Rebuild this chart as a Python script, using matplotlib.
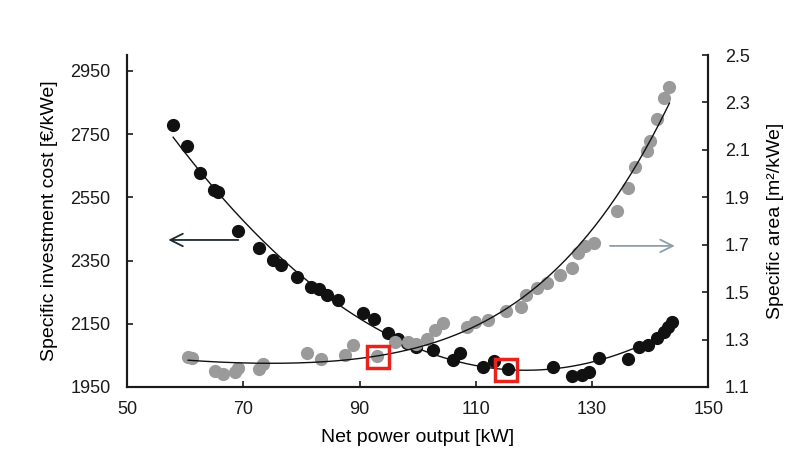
import numpy as np
import matplotlib
matplotlib.use("Agg")
import matplotlib.pyplot as plt

plt.rcParams['font.family'] = ['Liberation Sans', 'DejaVu Sans']

# specific investment cost (left axis)
cost_power = [57.9, 60.3, 62.6, 65.0, 65.7, 69.1, 72.7, 75.1, 76.5, 79.3, 81.7, 83.0,
              84.4, 86.3, 90.6, 92.5, 94.9, 96.6, 98.2, 99.7, 102.7, 106.1, 107.3,
              111.3, 113.2, 115.6, 123.3, 126.6, 128.3, 129.5, 131.1, 136.1, 138.0,
              139.7, 141.2, 142.3, 143.0, 143.8]
cost_values = [2779, 2713, 2627, 2573, 2567, 2444, 2390, 2352, 2336, 2298, 2266, 2260,
               2241, 2225, 2184, 2165, 2121, 2102, 2089, 2077, 2067, 2035, 2058,
               2013, 2032, 2007, 2013, 1985, 1988, 1997, 2042, 2039, 2077,
               2083, 2105, 2124, 2140, 2156]

# specific area (right axis)
area_power = [60.5, 61.2, 65.1, 66.5, 68.6, 69.1, 72.7, 73.4, 81.0, 83.4, 87.5, 88.9,
              93.0, 96.0, 98.4, 99.7, 101.6, 103.0, 104.4, 108.5, 109.9, 112.0, 115.1,
              117.8, 118.7, 120.6, 122.3, 124.4, 126.6, 127.5, 128.8, 130.4, 134.3,
              136.2, 137.3, 139.5, 140.0, 141.2, 142.3, 143.3]
area_values = [1.227, 1.222, 1.167, 1.155, 1.163, 1.180, 1.176, 1.197, 1.243, 1.218, 1.235,
               1.277, 1.231, 1.290, 1.290, 1.281, 1.302, 1.340, 1.370, 1.353, 1.374, 1.383,
               1.421, 1.437, 1.488, 1.518, 1.539, 1.572, 1.602, 1.665, 1.695, 1.707, 1.842,
               1.939, 2.028, 2.095, 2.138, 2.230, 2.319, 2.365]

# trend line of the specific area
area_trend_x = [60.5, 70.0, 83.2, 89.6, 93.0, 97.5, 105.1, 114.2, 119.9, 125.7,
                130.2, 136.1, 138.8, 141.7, 143.3]
area_trend_y = [1.210, 1.207, 1.208, 1.218, 1.225, 1.245, 1.307, 1.425, 1.518, 1.636,
                1.775, 1.960, 2.087, 2.226, 2.298]

# highlighted design points
area_mark = (93.1, 1.226)
cost_mark = (115.1, 2004)

fig = plt.figure(figsize=(7.95, 4.59), dpi=100)
ax = fig.add_axes([0.160, 0.157, 0.731, 0.723])
ax2 = ax.twinx()

dark = '#111111'
grey = '#9a9a9a'

ax.plot(cost_power, cost_values, 'o', color=dark, ms=8.5, zorder=3)
c = np.polyfit(cost_power, cost_values, 2)
xs = np.linspace(min(cost_power), max(cost_power), 200)
ax.plot(xs, np.polyval(c, xs), color=dark, lw=1.0, zorder=4)

ax2.plot(area_power, area_values, 'o', color=grey, ms=8.5, zorder=3)
c2 = np.polyfit(area_trend_x, area_trend_y, 4)
xs2 = np.linspace(min(area_trend_x), max(area_trend_x), 200)
ax2.plot(xs2, np.polyval(c2, xs2), color=dark, lw=1.0, zorder=4)

ax.plot(*cost_mark, 's', ms=16, mfc='none', mec='#e8231c', mew=2.5, zorder=5)
ax2.plot(*area_mark, 's', ms=16, mfc='none', mec='#e8231c', mew=2.5, zorder=5)

ax.annotate('', xy=(56.6, 2415), xytext=(69.6, 2415),
            arrowprops=dict(arrowstyle='->,head_length=0.9,head_width=0.45', color='#1c2a30', lw=1.3))
ax2.annotate('', xy=(144.7, 1.695), xytext=(132.6, 1.695),
             arrowprops=dict(arrowstyle='->,head_length=0.9,head_width=0.45', color='#8aa0aa', lw=1.3))

ax.set_xlim(50, 150)
ax.set_xticks(range(50, 151, 20))
ax.set_ylim(1950, 3000)
ax.set_yticks(range(1950, 2951, 200))
ax2.set_ylim(1.1, 2.5)
ax2.set_yticks(np.arange(1.1, 2.51, 0.2))
ax2.set_yticklabels([f'{v:.1f}' for v in np.arange(1.1, 2.51, 0.2)])

for a in (ax, ax2):
    a.spines['top'].set_visible(False)
    for s in a.spines.values():
        s.set_linewidth(1.5)
        s.set_color('#1a1a1a')
    a.tick_params(direction='in', length=4, width=1.2, labelsize=13, colors='#1a1a1a')
ax.tick_params(axis='x', pad=10)
ax.tick_params(axis='y', pad=12)
ax2.tick_params(axis='y', pad=12)

ax.set_xlabel('Net power output [kW]', fontsize=14, labelpad=8)
ax.set_ylabel('Specific investment cost [€/kWe]', fontsize=14, labelpad=9)
ax2.set_ylabel('Specific area [m²/kWe]', fontsize=14, labelpad=12)

fig.savefig('out.png', dpi=100)
